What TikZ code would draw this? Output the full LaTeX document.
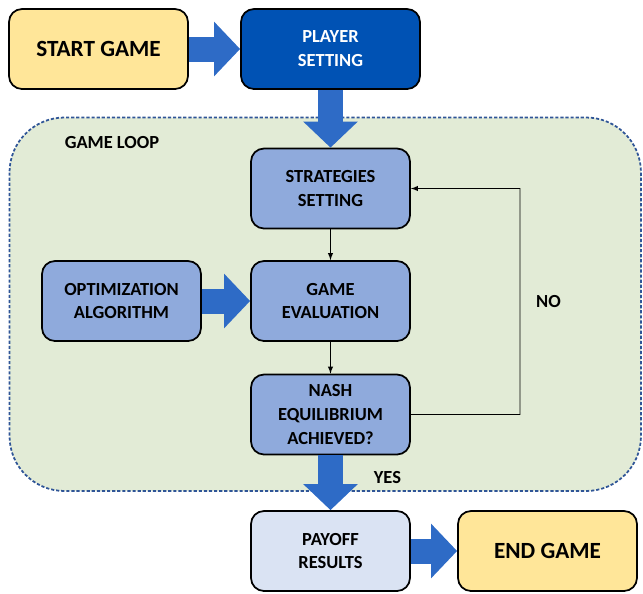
\documentclass[tikz,border=0pt]{standalone}
\usepackage{fontspec}
\setmainfont{Carlito}
\usepackage{xcolor}
\usepackage{tikz}
\usetikzlibrary{arrows.meta}
\definecolor{startyellow}{HTML}{FFE699}
\definecolor{playerblue}{HTML}{0052B4}
\definecolor{stepblue}{HTML}{8FAADC}
\definecolor{payoffblue}{HTML}{DAE3F3}
\definecolor{loopgreen}{HTML}{E2EBD6}
\definecolor{loopedge}{HTML}{2F5597}
\definecolor{fatblue}{HTML}{2E6BC6}
\tikzstyle{arrow} = [-latex]
\tikzstyle{box} = [draw=black, line width=1pt, rounded corners=0.26cm, align=center, fill=stepblue, minimum width=3.18cm, minimum height=1.6cm, font=\fontsize{10.5}{13.6}\selectfont\bfseries]
\tikzstyle{endbox} = [box, fill=startyellow, minimum width=3.58cm, font=\fontsize{13.2}{15}\selectfont\bfseries]
\tikzstyle{fatarrow} = [draw=fatblue, line width=0.5cm, -{Triangle[length=0.52cm, width=1.06cm]}]
\tikzstyle{tag} = [font=\fontsize{10.5}{13.6}\selectfont\bfseries]

\begin{document}
\begin{tikzpicture}[node distance=2.25cm]
		\useasboundingbox (0,0) rectangle (12.86,-11.88);
		% game loop region
		\draw [loopedge, line width=1pt, dash pattern=on 1.8pt off 1.1pt, fill=loopgreen, rounded corners=1.1cm] (0.19,-2.35) rectangle (12.82,-9.82);
		\node (looplabel) [tag] at (2.24,-2.86) {GAME LOOP};

		\node (start) [endbox] at (1.97,-0.98) {START GAME};
		\node (player) [box, right of=start, xshift=2.39cm, minimum width=3.58cm, fill=playerblue, text=white] {PLAYER\\SETTING};
		\node (strat) [box, below of=player, yshift=-0.54cm] {STRATEGIES\\SETTING};
		\node (eval) [box, below of=strat] {GAME\\EVALUATION};
		\node (opt) [box, left of=eval, xshift=-1.93cm] {OPTIMIZATION\\ALGORITHM};
		\node (nash) [box, below of=eval, yshift=-0.02cm] {NASH\\EQUILIBRIUM\\ACHIEVED?};
		\node (payoff) [box, below of=nash, yshift=-0.48cm, fill=payoffblue] {PAYOFF\\RESULTS};
		\node (endg) [endbox, right of=payoff, xshift=2.09cm] {END GAME};
		\coordinate (noturn) at (10.4,-8.29);

		\draw [arrow] (strat) -- (eval);
		\draw [arrow] (eval) -- (nash);
		\draw [arrow] (nash.east) -- (noturn) |- node [tag, pos=0.25, right, xshift=0.2cm] {NO} (strat.east);

		\draw [fatarrow] (start) -- (player);
		\draw [fatarrow] (player) -- (strat);
		\draw [fatarrow] (opt) -- (eval);
		\draw [fatarrow] (nash) -- node [tag, right, xshift=0.5cm, yshift=0.1cm] {YES} (payoff);
		\draw [fatarrow] (payoff) -- (endg);
	\end{tikzpicture}
\end{document}
